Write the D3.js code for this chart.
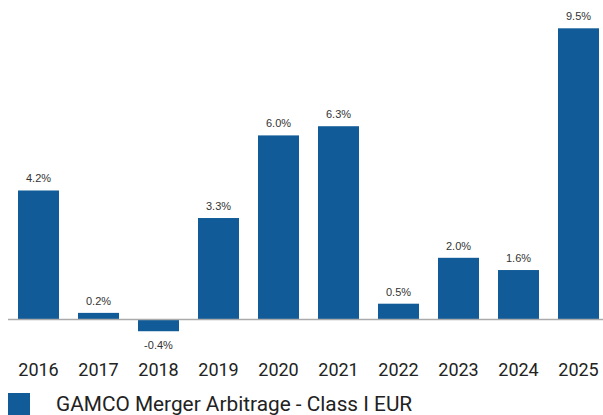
<!DOCTYPE html>
<html lang="en">
<head>
<meta charset="UTF-8">
<title>GAMCO Merger Arbitrage</title>
<script src="https://d3js.org/d3.v7.min.js"></script>
<style>
    body { margin: 0; background: #fff; }
    svg { display: block; }
    .val { font: 11px "Liberation Sans", Arial, sans-serif; fill: #333; text-anchor: middle; }
    .year text { font: 18px "Roboto", "Liberation Sans", sans-serif; fill: #222; }
    .legend { font: 20.8px "Roboto", "Liberation Sans", sans-serif; fill: #222; }
</style>
</head>
<body>
<svg id="chart"></svg>
<script>
    // data
    const years = ["2016", "2017", "2018", "2019", "2020", "2021", "2022", "2023", "2024", "2025"];
    const returns = [4.2, 0.2, -0.4, 3.3, 6.0, 6.3, 0.5, 2.0, 1.6, 9.5];
    const seriesName = "GAMCO Merger Arbitrage - Class I EUR";

    const width = 603, height = 415;
    const barColor = "#115c98";

    const svg = d3.select("#chart")
        .attr("width", width)
        .attr("height", height);

    const x = d3.scaleBand()
        .domain(years)
        .range([8.5, 608.5])
        .paddingInner(0.3167)
        .paddingOuter(0.1583);

    const y = d3.scaleLinear()
        .domain([-1, 10])
        .range([349.6, 13]);

    // bars
    svg.selectAll(".bar")
        .data(years)
        .enter()
        .append("rect")
        .attr("class", "bar")
        .attr("x", d => x(d))
        .attr("width", x.bandwidth())
        .attr("y", (d, i) => y(Math.max(0, returns[i])))
        .attr("height", (d, i) => Math.abs(y(returns[i]) - y(0)))
        .attr("fill", barColor);

    // zero line
    svg.append("line")
        .attr("x1", 8).attr("x2", width)
        .attr("y1", y(0) + 0.5).attr("y2", y(0) + 0.5)
        .attr("stroke", "#aaa")
        .attr("stroke-width", 1.5);

    // value labels
    svg.selectAll(".val")
        .data(years)
        .enter()
        .append("text")
        .attr("class", "val")
        .attr("x", d => x(d) + x.bandwidth() / 2)
        .attr("y", (d, i) => returns[i] >= 0 ? y(returns[i]) - 8 : y(returns[i]) + 18)
        .text((d, i) => returns[i].toFixed(1) + "%");

    // year axis
    const axis = svg.append("g")
        .attr("class", "year")
        .attr("transform", "translate(0,363)")
        .call(d3.axisBottom(x).tickSize(0).tickPadding(0));
    axis.select(".domain").remove();
    axis.selectAll("text").attr("dy", "0.71em").attr("fill", "#222");

    // legend
    const legend = svg.append("g").attr("transform", "translate(8,393)");
    legend.append("rect")
        .attr("width", 22)
        .attr("height", 22)
        .attr("fill", barColor);
    legend.append("text")
        .attr("class", "legend")
        .attr("x", 48)
        .attr("y", 18)
        .text(seriesName);
</script>
</body>
</html>
